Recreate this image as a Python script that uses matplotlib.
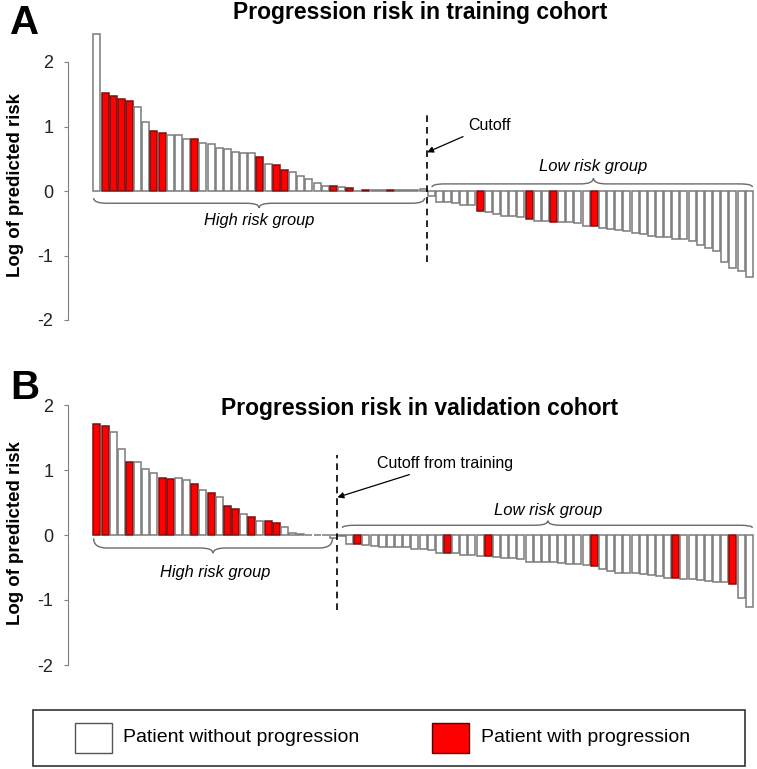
import matplotlib
matplotlib.use("Agg")
import matplotlib.pyplot as plt
from matplotlib.path import Path
from matplotlib.patches import PathPatch, Rectangle

plt.rcParams['font.family'] = ['Liberation Sans', 'DejaVu Sans']

# Training cohort (A): log of predicted risk, sorted
high_a = [2.43, 1.52, 1.47, 1.43, 1.39, 1.31, 1.07, 0.925, 0.90, 0.87, 0.87,
          0.81, 0.81, 0.75, 0.73, 0.66, 0.65, 0.61, 0.59, 0.59, 0.53, 0.42,
          0.40, 0.32, 0.29, 0.24, 0.19, 0.13, 0.08, 0.07, 0.06, 0.04, 0.005,
          0.01, 0.015, 0.015, 0.015, 0.015, 0.015, 0.015, 0.025]
low_a = [-0.08, -0.17, -0.17, -0.19, -0.21, -0.22, -0.31, -0.33, -0.35, -0.38,
         -0.38, -0.41, -0.44, -0.46, -0.47, -0.48, -0.48, -0.48, -0.50, -0.55,
         -0.55, -0.57, -0.59, -0.61, -0.62, -0.65, -0.66, -0.69, -0.71, -0.72,
         -0.74, -0.75, -0.78, -0.84, -0.89, -0.93, -1.10, -1.20, -1.24, -1.33]
# 1-based positions of patients with progression
prog_high_a = [2, 3, 4, 5, 8, 9, 13, 21, 23, 24, 30, 32, 34, 37]
prog_low_a = [7, 13, 16, 21]

# Validation cohort (B)
high_b = [1.71, 1.68, 1.58, 1.32, 1.13, 1.13, 1.01, 0.96, 0.88, 0.86, 0.87,
          0.84, 0.79, 0.70, 0.65, 0.59, 0.45, 0.40, 0.33, 0.28, 0.21, 0.21,
          0.19, 0.13, 0.03, 0.02, 0.005, 0.005, 0.005, -0.04]
low_b = [-0.01, -0.14, -0.14, -0.15, -0.17, -0.18, -0.19, -0.19, -0.19, -0.21,
         -0.22, -0.23, -0.27, -0.27, -0.28, -0.30, -0.31, -0.32, -0.32, -0.34,
         -0.35, -0.36, -0.37, -0.41, -0.41, -0.41, -0.42, -0.43, -0.44, -0.45,
         -0.46, -0.48, -0.52, -0.55, -0.58, -0.58, -0.59, -0.60, -0.62, -0.63,
         -0.66, -0.66, -0.67, -0.68, -0.69, -0.70, -0.72, -0.73, -0.76, -0.97,
         -1.10]
prog_high_b = [1, 2, 5, 9, 10, 13, 15, 17, 18, 20, 22, 23]
prog_low_b = [3, 14, 19, 32, 42, 49]

yticks = [-2, -1, 0, 1, 2]
RED = '#ff0000'
W, H = 757, 769


def brace(ax, x0, x1, yline, yend, ytip, xm=None, r=1.6):
    if xm is None:
        xm = (x0 + x1) / 2
    verts = [(x0, yend), (x0, yline), (x0 + r, yline),
             (xm - r, yline), (xm, yline), (xm, ytip),
             (xm, yline), (xm + r, yline),
             (x1 - r, yline), (x1, yline), (x1, yend)]
    codes = [Path.MOVETO, Path.CURVE3, Path.CURVE3,
             Path.LINETO, Path.CURVE3, Path.CURVE3,
             Path.CURVE3, Path.CURVE3,
             Path.LINETO, Path.CURVE3, Path.CURVE3]
    ax.add_patch(PathPatch(Path(verts, codes), fill=False, ec='#6a6a6a', lw=1.0))


def panel(ax, high, low, prog_high, prog_low):
    vals = high + low
    red = [i - 1 for i in prog_high] + [len(high) + i - 1 for i in prog_low]
    colors = [RED if i in red else 'white' for i in range(len(vals))]
    edges = ['#7a1010' if i in red else '#7a7a7a' for i in range(len(vals))]
    ax.bar(range(len(vals)), vals, width=0.86, color=colors, edgecolor=edges, linewidth=1.1)
    ax.set_xlim(-3.6, 80.7)
    ax.set_ylim(-2, 2.5)
    for s in ['top', 'right', 'bottom']:
        ax.spines[s].set_visible(False)
    ax.spines['left'].set_bounds(-2, 2)
    ax.spines['left'].set_color('#7f7f7f')
    ax.set_xticks([])
    ax.set_yticks(yticks)
    ax.set_yticklabels([str(t) for t in yticks])
    ax.tick_params(axis='y', length=3, color='#7f7f7f', labelsize=13, pad=7, labelcolor='#222222')
    ax.patch.set_alpha(0)


fig = plt.figure(figsize=(W / 100, H / 100), dpi=100)

# Panel A
axa = fig.add_axes([67.5 / W, 1 - 320 / H, 687.4 / W, 290.25 / H])
panel(axa, high_a, low_a, prog_high_a, prog_low_a)
ca = len(high_a) - 0.5
axa.plot([ca, ca], [-1.1, 1.2], color='black', lw=1.2, ls=(0, (4, 3)))
axa.annotate('Cutoff', xy=(ca, 0.6), xytext=(45.5, 1.02), fontsize=11.5,
             va='center', ha='left',
             arrowprops=dict(arrowstyle='-|>', color='black', lw=0.9, mutation_scale=9,
                             shrinkA=2, shrinkB=0))
brace(axa, -0.4, ca - 0.3, -0.19, -0.11, -0.26)
axa.text((ca - 0.7) / 2, -0.46, 'High risk group', fontsize=11.8, style='italic',
         ha='center', va='center')
brace(axa, ca + 0.6, 80.4, 0.11, 0.06, 0.2, xm=60.9)
axa.text(60.9, 0.38, 'Low risk group', fontsize=12, style='italic', ha='center', va='center')

# Panel B
axb = fig.add_axes([67.5 / W, 104 / H, 687.4 / W, 292.5 / H])
panel(axb, high_b, low_b, prog_high_b, prog_low_b)
cb = len(high_b) - 0.5
axb.plot([cb, cb], [-1.15, 1.23], color='black', lw=1.2, ls=(0, (4, 3)))
axb.annotate('Cutoff from training', xy=(cb, 0.58), xytext=(34.3, 1.1), fontsize=11.5,
             va='center', ha='left',
             arrowprops=dict(arrowstyle='-|>', color='black', lw=0.9, mutation_scale=9,
                             shrinkA=2, shrinkB=0))
brace(axb, -0.4, cb - 0.6, -0.2, -0.05, -0.28)
axb.text(14.5, -0.57, 'High risk group', fontsize=11.8, style='italic',
         ha='center', va='center')
brace(axb, cb + 0.6, 80.4, 0.15, 0.11, 0.22, xm=55.3)
axb.text(55.3, 0.38, 'Low risk group', fontsize=12, style='italic', ha='center', va='center')

# titles, panel letters, y labels
fig.text(420 / W, 1 - 13 / H, 'Progression risk in training cohort', fontsize=16.5,
         fontweight='bold', ha='center', va='center')
fig.text(420 / W, 1 - 409 / H, 'Progression risk in validation cohort', fontsize=16.5,
         fontweight='bold', ha='center', va='center')
fig.text(25 / W, 1 - 23 / H, 'A', fontsize=29, fontweight='bold', ha='center', va='center')
fig.text(25 / W, 1 - 388 / H, 'B', fontsize=29, fontweight='bold', ha='center', va='center')
fig.text(16 / W, 1 - 185 / H, 'Log of predicted risk', fontsize=13.4, fontweight='bold',
         rotation=90, ha='center', va='center')
fig.text(16 / W, 1 - 533 / H, 'Log of predicted risk', fontsize=13.4, fontweight='bold',
         rotation=90, ha='center', va='center')

# Legend
axl = fig.add_axes([0, 0, 1, 1])
axl.set_xlim(0, W)
axl.set_ylim(H, 0)
axl.axis('off')
axl.patch.set_alpha(0)
axl.add_patch(Rectangle((33, 710), 712, 56, fill=False, ec='#333333', lw=1.2))
axl.add_patch(Rectangle((75, 723), 37, 30, fc='white', ec='#555555', lw=1.0))
axl.add_patch(Rectangle((432, 723), 37, 30, fc=RED, ec='#5a0000', lw=1.0))
axl.text(123, 738, 'Patient without progression', fontsize=14, va='center', ha='left')
axl.text(481, 738, 'Patient with progression', fontsize=14, va='center', ha='left')

fig.savefig('out.png', dpi=100)
